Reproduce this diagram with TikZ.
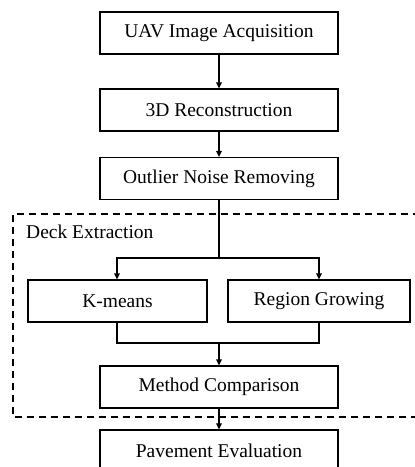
\documentclass[tikz,border=0pt]{standalone}
\usepackage{fontspec}
\setmainfont{Liberation Serif}
\usetikzlibrary{arrows.meta}
\begin{document}
\begin{tikzpicture}[x=1pt,y=-1pt,
  every node/.style={font=\fontsize{19.5}{22}\selectfont},
  box/.style={draw, line width=1.2pt, minimum height=42pt, inner sep=0pt, anchor=center},
  wide/.style={box, minimum width=238pt},
  link/.style={line width=1.2pt},
  arr/.style={link, -{Triangle[length=6pt,width=5.5pt]}},
  group/.style={line width=1.4pt, dash pattern=on 7.3pt off 4.7pt}]
  \useasboundingbox (0,0) rectangle (415,467);
  \clip (0,0) rectangle (415,467);

  % main pipeline
  \node[wide] (uav)  at (219,33)    {UAV Image Acquisition};
  \node[wide] (rec)  at (219,110)   {3D Reconstruction};
  \node[wide] (out)  at (219,178.5) {Outlier Noise Removing};
  \node[box, minimum width=179pt] (km) at (117.5,301) {K-means};
  \node[box, minimum width=182pt] (rg) at (319,301)   {Region Growing};
  \node[wide] (cmp)  at (219,387)   {Method Comparison};
  \node[wide] (pav)  at (219,451)   {Pavement Evaluation};

  % deck extraction group
  \draw[group] (420,214) -- (13,214) -- (13,417) -- (420,417);
  \node[anchor=west, inner sep=0pt] (deck) at (26,232) {Deck Extraction};

  % helper points for split and merge
  \coordinate (split) at (219,258);
  \coordinate (merge) at (219,343);

  \draw[arr] (uav) -- (rec);
  \draw[arr] (rec) -- (out);
  \draw[link] (out.south) -- (split);
  \draw[arr] (split) -| (km.north -| 117,0);
  \draw[arr] (split) -| (rg.north);
  \draw[link] (km.south -| 117,0) |- (merge) -| (rg.south);
  \draw[arr] (merge) -- (cmp.north);
  \draw[arr] (cmp) -- (pav);
\end{tikzpicture}
\end{document}
